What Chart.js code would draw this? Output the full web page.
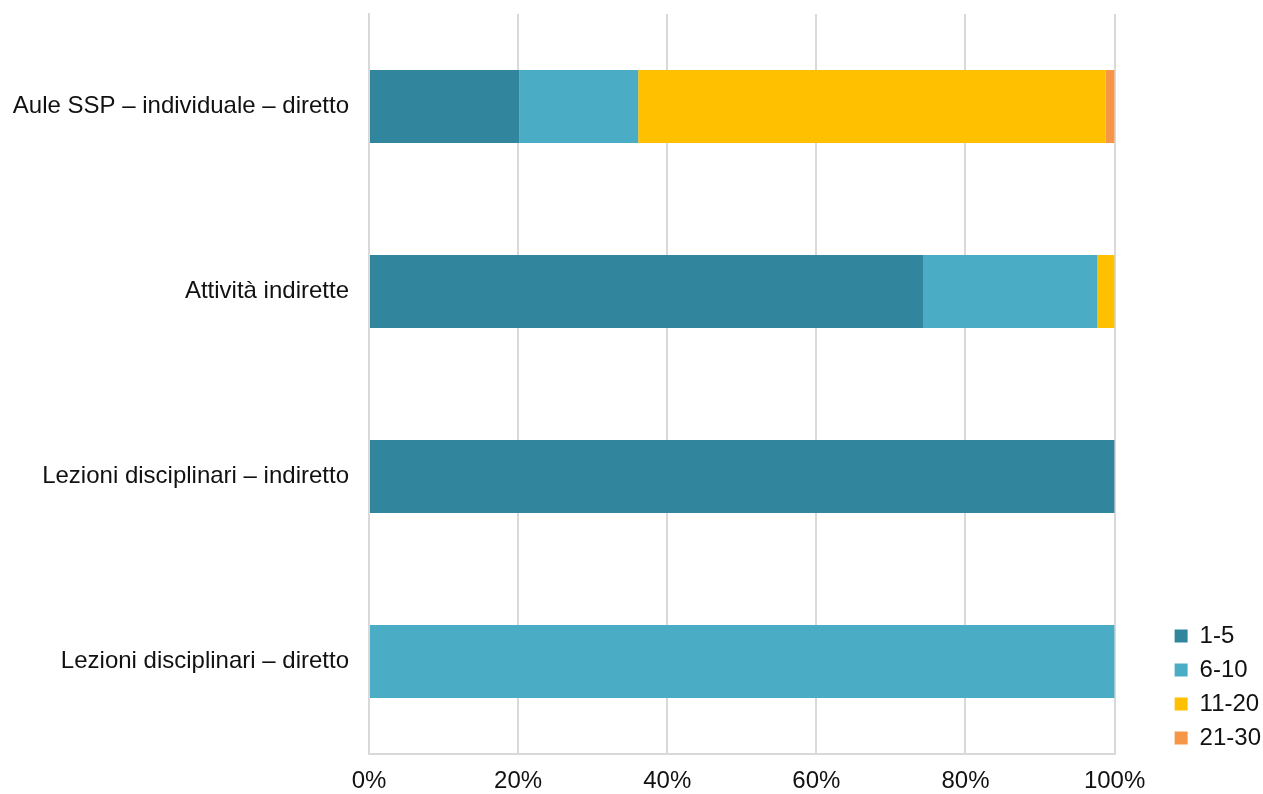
<!DOCTYPE html>
<html lang="it">
<head>
    <meta charset="UTF-8">
    <title>Distribuzione</title>
    <script src="https://cdn.jsdelivr.net/npm/chart.js"></script>
    <style>
        html, body { margin: 0; padding: 0; background: #fff; }
        #wrap { width: 1263px; height: 794px; position: relative; }
    </style>
</head>
<body>
    <div id="wrap">
        <canvas id="chart"></canvas>
    </div>

    <script>
        // Categorie (dall'alto in basso)
        const categories = [
            "Aule SSP \u2013 individuale \u2013 diretto",
            "Attivit\u00e0 indirette",
            "Lezioni disciplinari \u2013 indiretto",
            "Lezioni disciplinari \u2013 diretto"
        ];

        // Valori percentuali per fascia
        const range1to5 = [20.2, 74.3, 100, 0];
        const range6to10 = [15.9, 23.4, 0, 100];
        const range11to20 = [62.7, 2.3, 0, 0];
        const range21to30 = [1.2, 0, 0, 0];

        const seriesLabels = ["1-5", "6-10", "11-20", "21-30"];
        const seriesColors = ["#31859c", "#4bacc6", "#ffc000", "#f79646"];

        const tickValues = [0, 20, 40, 60, 80, 100];

        const allSeries = [range1to5, range6to10, range11to20, range21to30];

        Chart.defaults.font.family = "'Liberation Sans', Arial, sans-serif";
        Chart.defaults.color = "#111";

        // sposta la legenda in basso a destra come nell'originale
        const legendShift = {
            id: "legendShift",
            afterLayout(chart) {
                const lg = chart.legend;
                if (!lg) return;
                const dx = 50, dy = -34;
                lg.left += dx; lg.right += dx;
                lg.top += dy; lg.bottom += dy;
            }
        };

        new Chart("chart", {
            type: "bar",
            data: {
                labels: categories,
                datasets: allSeries.map((vals, i) => ({
                    label: seriesLabels[i],
                    data: vals,
                    backgroundColor: seriesColors[i],
                    borderWidth: 0,
                    categoryPercentage: 1,
                    barPercentage: 0.395
                }))
            },
            options: {
                indexAxis: "y",
                responsive: true,
                maintainAspectRatio: false,
                animation: false,
                layout: {
                    padding: { top: 14, right: 42, bottom: 0, left: 0 }
                },
                plugins: {
                    tooltip: { enabled: false },
                    legend: {
                        position: "right",
                        align: "end",
                        labels: {
                            boxWidth: 13,
                            boxHeight: 13,
                            padding: 10,
                            font: { size: 24 },
                            color: "#111"
                        }
                    }
                },
                scales: {
                    x: {
                        stacked: true,
                        min: 0,
                        max: 100,
                        afterBuildTicks: (scale) => {
                            scale.ticks = tickValues.map(v => ({ value: v }));
                        },
                        ticks: {
                            callback: (v) => v + "%",
                            font: { size: 24 },
                            color: "#111",
                            padding: 13,
                            maxRotation: 0
                        },
                        grid: {
                            color: "#d9d9d9",
                            lineWidth: 2,
                            drawTicks: false
                        },
                        border: { display: true, color: "#d9d9d9", width: 2 },
                        afterFit: (scale) => { scale.height = 40; }
                    },
                    y: {
                        stacked: true,
                        ticks: {
                            font: { size: 24 },
                            color: "#111",
                            padding: 20
                        },
                        grid: { display: false, drawTicks: false },
                        border: { display: true, color: "#d9d9d9", width: 2 },
                        afterFit: (scale) => {
                            scale.width = 369;
                            scale.paddingTop = 0;
                            scale.paddingBottom = 0;
                        }
                    }
                }
            },
            plugins: [legendShift]
        });
    </script>
</body>
</html>
